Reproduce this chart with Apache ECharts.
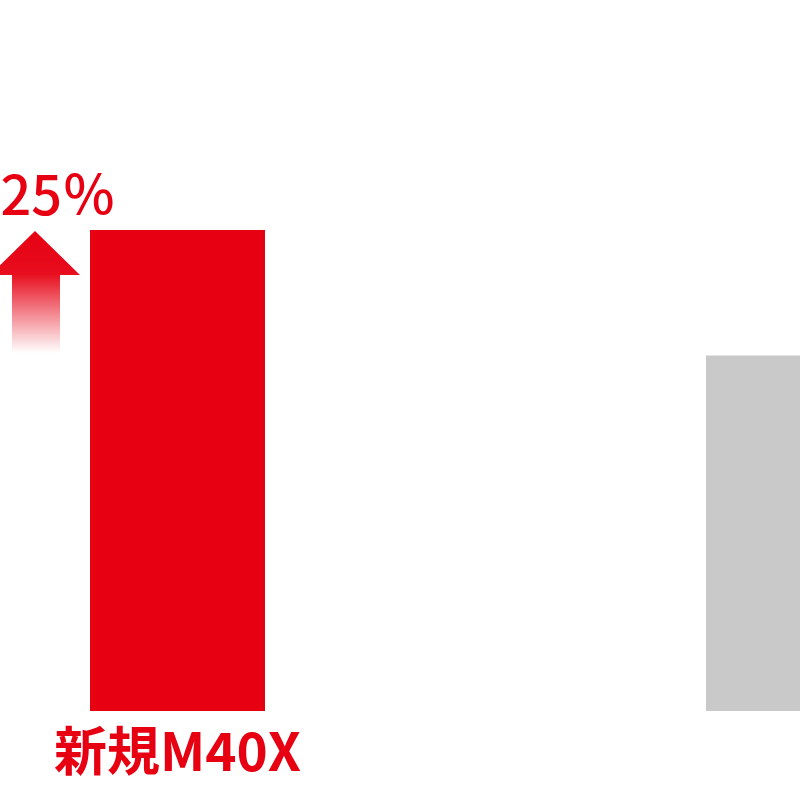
<!DOCTYPE html>
<html>
<head>
<meta charset="utf-8">
<script src="https://cdn.jsdelivr.net/npm/echarts@6/dist/echarts.min.js"></script>
<style>html,body{margin:0;padding:0;background:#fff;overflow:hidden;width:800px;height:800px;}#c{width:1000px;height:800px;}</style>
</head>
<body>
<div id="c"></div>
<script>
const categories = ['新規M40X', '', ''];
const values = [135.3, null, 100];
const barColors = ['#e60012', '#c9c9c9', '#c9c9c9'];
const increaseLabel = '+25％';

const chart = echarts.init(document.getElementById('c'), null, {renderer: 'canvas'});
chart.setOption({
  animation: false,
  backgroundColor: '#ffffff',
  grid: {left: 23.5, width: 924, top: 0, bottom: 89, containLabel: false},
  xAxis: {
    type: 'category',
    data: categories,
    axisLine: {show: false},
    axisTick: {show: false},
    axisLabel: {
      margin: 13,
      interval: 0,
      color: '#e60012',
      fontFamily: 'Noto Sans CJK JP',
      fontWeight: 'bold',
      fontSize: 53
    }
  },
  yAxis: {
    type: 'value', min: 0, max: 200,
    show: false,
    splitLine: {show: false}
  },
  series: [{
    type: 'bar',
    barWidth: 175,
    data: values.map((v, i) => ({value: v, itemStyle: {color: barColors[i]}}))
  }],
  graphic: [
    {
      type: 'polygon',
      shape: {points: [[35, 231], [80, 275], [60, 275], [60, 353], [12, 353], [12, 275], [-10, 275]]},
      style: {
        fill: new echarts.graphic.LinearGradient(0, 0, 0, 1, [
          {offset: 0, color: 'rgba(230,0,18,1)'},
          {offset: 0.35, color: 'rgba(230,0,18,0.95)'},
          {offset: 1, color: 'rgba(230,0,18,0)'}
        ])
      }
    },
    {
      type: 'text',
      x: 116,
      y: 167,
      style: {
        text: increaseLabel,
        align: 'right',
        verticalAlign: 'top',
        fill: '#e60012',
        font: '500 54px "Noto Sans CJK JP"'
      }
    }
  ]
});
</script>
</body>
</html>
